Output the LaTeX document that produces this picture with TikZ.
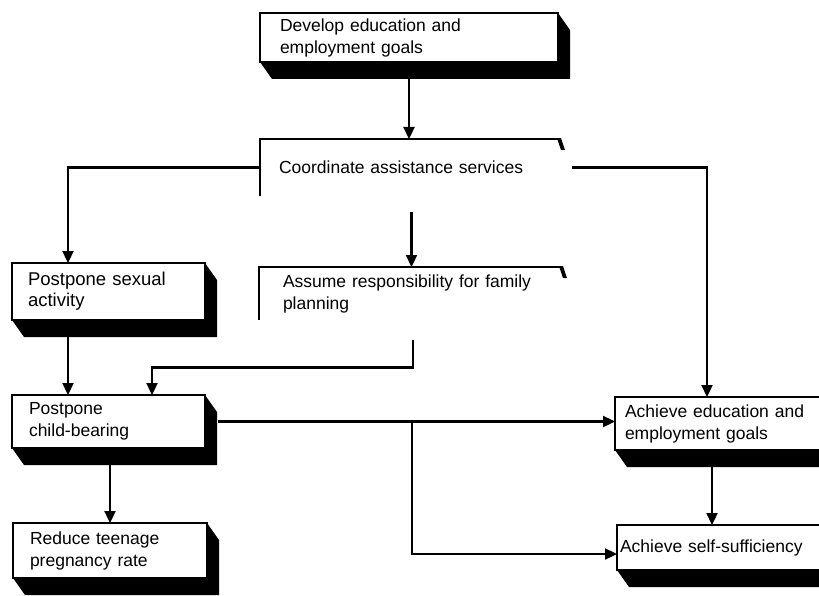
\documentclass[tikz,border=0pt]{standalone}
\usepackage{fontspec}
\setmainfont{Liberation Sans}
\usetikzlibrary{arrows.meta,calc,backgrounds}
\newcommand\bxshadow[1]{\fill[black] (#1.north east) -- ++(12,17) -- ($(#1.south east)+(12,17)$) -- ($(#1.south west)+(12,17)$) -- (#1.south west) -- cycle;}
\newcommand\bxopen[1]{\draw[line width=1.6pt] (#1.south west) -- (#1.north west) -- ($(#1.north east)+(-5,0)$);
  \fill[black] ($(#1.north east)+(-6,-0.8)$) -- ($(#1.north east)+(-2,-0.8)$) -- ($(#1.north east)+(2,11)$) -- ($(#1.north east)+(-2,11)$) -- cycle;}
\begin{document}
\begin{tikzpicture}[x=1pt,y=-1pt,
  box/.style={draw, line width=1.6pt, fill=white, inner ysep=0pt, outer sep=0pt, align=left, anchor=north west, font=\fontsize{17.5}{22}\selectfont},
  openbox/.style={box, draw=none, fill=none},
  conn/.style={line width=2.3pt, -{Triangle[length=12pt,width=11pt]}}]
\path[use as bounding box] (0,0) rectangle (819,596);

\node[box, minimum height=49pt, text width=258pt, inner xsep=20pt] (dev) at (260,13) {Develop education and\\employment goals};
\node[openbox, minimum height=57pt, text width=265pt, inner xsep=19pt] (coord) at (260,139) {Coordinate assistance services};
\node[openbox, minimum height=53pt, text width=258pt, inner xsep=24pt] (asm) at (259,267) {Assume responsibility for family\\planning};
\node[box, minimum height=57pt, text width=161pt, inner xsep=16pt, font=\fontsize{18.5}{21}\selectfont] (psex) at (12,263) {Postpone sexual\\activity};
\node[box, minimum height=53pt, text width=159pt, inner xsep=17pt] (pchild) at (12,395) {Postpone\\child-bearing};
\node[box, minimum height=55pt, text width=160pt, inner xsep=17pt] (reduce) at (13,523) {Reduce teenage\\pregnancy rate};
\node[box, minimum height=53pt, text width=195pt, inner xsep=10pt] (achedu) at (615,397) {Achieve education and\\employment goals};
\node[box, minimum height=45pt, text width=207pt, inner xsep=3pt] (achself) at (617,525) {Achieve self-sufficiency};

\begin{scope}[on background layer]
  \fill[white] (0,0) rectangle (819,596);
  \bxshadow{dev}
  \bxshadow{psex}
  \bxshadow{pchild}
  \bxshadow{reduce}
  \bxshadow{achedu}
  \bxshadow{achself}
\end{scope}

\bxopen{coord}
\bxopen{asm}

% connectors
\draw[conn] (dev.south) -- (dev.south |- coord.north);
\draw[conn] (coord.west) -| ($(psex.north west)+(56,0)$);
\coordinate (cr) at ($(coord.east)+(9,0)$);
\draw[conn] (cr) -| ($(achedu.north west)+(92,0)$);
\coordinate (c1) at ($(coord.south)+(0,16)$);
\draw[conn] (c1) -- (c1 |- asm.north);
\coordinate (a1) at ($(asm.south)+(1,20)$);
\coordinate (a2) at ($(pchild.north west)+(140,0)$);
\draw[conn] (a1) |- ($(a1)!0.5!(a2)$) -| (a2);
\draw[conn] ($(psex.south west)+(56,17)$) -- ($(pchild.north west)+(56,0)$);
\coordinate (p1) at ($(pchild.south west)+(98,17)$);
\draw[conn] (p1) -- (p1 |- reduce.north);
\coordinate (pr) at ($(pchild.east)+(13,0)$);
\draw[conn] (pr) -- (pr -| achedu.west);
\coordinate (br) at ($(pr)+(194,0)$);
\draw[conn] (br) |- ($(achself.south west)+(0,-16)$);
\coordinate (e1) at ($(achedu.south west)+(97,17)$);
\draw[conn] (e1) -- (e1 |- achself.north);
\end{tikzpicture}
\end{document}
